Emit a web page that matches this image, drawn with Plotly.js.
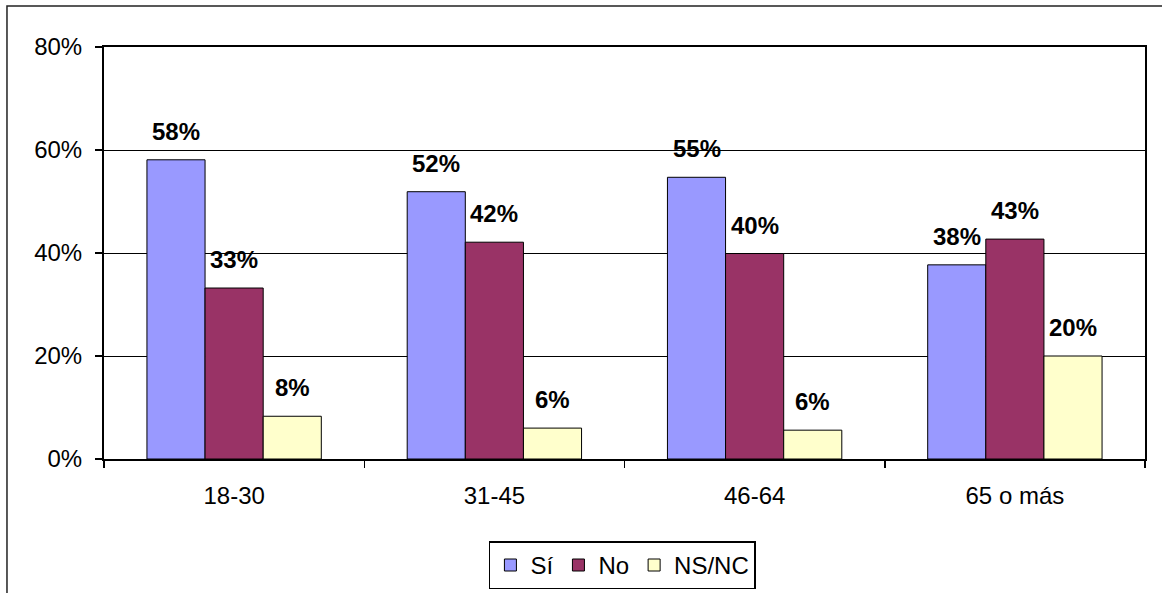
<!DOCTYPE html>
<html>
<head>
<meta charset="utf-8">
<script src="https://cdn.plot.ly/plotly-3.0.1.min.js"></script>
<style>html,body{margin:0;padding:0;background:#fff;}#chart{width:1162px;height:593px;}</style>
</head>
<body>
<div id="chart"></div>
<script>
const categories = ["18-30", "31-45", "46-64", "65 o más"];
const seriesNames = ["Sí", "No", "NS/NC"];
const si = [0.581, 0.519, 0.547, 0.377];
const no = [0.332, 0.421, 0.399, 0.427];
const nsnc = [0.083, 0.060, 0.056, 0.200];
const yTickVals = [0, 0.2, 0.4, 0.6, 0.8];
const yTickText = ["0%", "20%", "40%", "60%", "80%"];

const colors = ["#9999FF", "#993366", "#FFFFCC"];
const allSeries = [si, no, nsnc];
const FONT = "Liberation Sans, Arial, sans-serif";

const traces = allSeries.map((vals, i) => ({
  type: "bar",
  name: seriesNames[i],
  x: categories,
  y: vals,
  marker: {color: colors[i], line: {color: "#000", width: 1}},
  hoverinfo: "skip"
}));

const annotations = [];
allSeries.forEach((vals, i) => {
  vals.forEach((v, j) => {
    annotations.push({
      x: categories[j], y: v, xref: "x", yref: "y",
      text: Math.round(v * 100) + "%",
      showarrow: false, yanchor: "bottom", xanchor: "center",
      xshift: (i - 1) * 58, yshift: 13,
      font: {family: FONT, size: 24, color: "#000", weight: "bold"}
    });
  });
});

const layout = {
  width: 1162, height: 593,
  margin: {l: 104, r: 17, t: 47, b: 134, autoexpand: false},
  paper_bgcolor: "#fff", plot_bgcolor: "#fff",
  font: {family: FONT, size: 24, color: "#000"},
  barmode: "group", bargap: 0.33, bargroupgap: 0,
  showlegend: true,
  legend: {
    orientation: "h", x: 0.498, xanchor: "center", y: -0.2, yanchor: "top",
    bordercolor: "#000", borderwidth: 1.5, bgcolor: "#fff",
    font: {family: FONT, size: 24, color: "#000"},
    itemwidth: 30, traceorder: "normal"
  },
  xaxis: {
    type: "category",
    showline: true, linecolor: "#000", linewidth: 2, mirror: true,
    ticks: "outside", tickson: "boundaries", ticklen: 7, tickwidth: 1.5, tickcolor: "#000",
    showgrid: false, zeroline: false,
    ticklabelstandoff: 14,
    tickfont: {family: FONT, size: 24, color: "#000"}
  },
  yaxis: {
    range: [0, 0.8], tickvals: yTickVals, ticktext: yTickText,
    showline: true, linecolor: "#000", linewidth: 2, mirror: true,
    ticks: "outside", ticklen: 7, tickwidth: 1.5, tickcolor: "#000",
    showgrid: true, gridcolor: "#000", gridwidth: 1, zeroline: false,
    ticklabelstandoff: 8,
    tickfont: {family: FONT, size: 24, color: "#000"}
  },
  annotations: annotations,
  shapes: [{
    type: "rect", xref: "paper", yref: "paper",
    x0: -0.0932, x1: 1.03, y0: -0.35, y1: 1.0995,
    line: {color: "#222", width: 1.5}, fillcolor: "rgba(0,0,0,0)", layer: "below"
  }]
};

Plotly.newPlot("chart", traces, layout, {displayModeBar: false, staticPlot: true});
</script>
</body>
</html>
